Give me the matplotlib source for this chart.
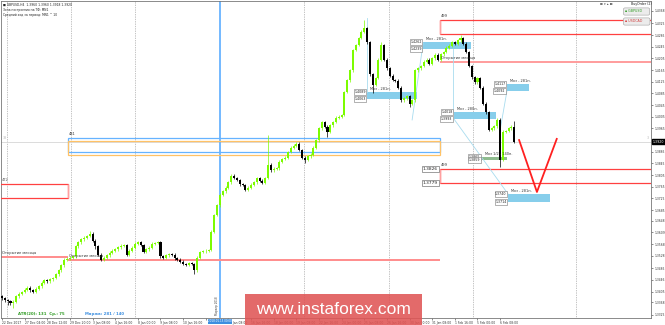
import numpy as np
import matplotlib
matplotlib.use('Agg')
import matplotlib.pyplot as plt
from matplotlib.patches import Rectangle

#-------------------------------------------------------------------------------
#DATA

# GBPUSD H4 closes, in points above 1.0000
closes = [3383, 3376, 3372, 3366, 3370, 3390, 3398, 3404, 3412, 3418,
          3410, 3404, 3415, 3424, 3435, 3445, 3440, 3448, 3452, 3465,
          3479, 3495, 3514, 3518, 3521, 3527, 3560, 3575, 3585, 3590,
          3596, 3603, 3580, 3560, 3531, 3514, 3521, 3530, 3538, 3545,
          3550, 3558, 3562, 3565, 3531, 3545, 3555, 3569, 3575, 3565,
          3541, 3550, 3555, 3569, 3572, 3575, 3527, 3521, 3530, 3534,
          3531, 3520, 3514, 3507, 3500, 3497, 3502, 3500, 3479, 3521,
          3541, 3543, 3545, 3548, 3610, 3668, 3702, 3737, 3750, 3761,
          3781, 3802, 3795, 3788, 3774, 3771, 3754, 3761, 3772, 3781,
          3795, 3785, 3778, 3795, 3840, 3822, 3826, 3829, 3850, 3860,
          3864, 3884, 3898, 3905, 3912, 3891, 3864, 3857, 3870, 3874,
          3898, 3925, 3966, 3987, 3970, 3953, 3975, 3987, 4001, 4005,
          4011, 4090, 4130, 4165, 4234, 4251, 4275, 4296, 4309, 4261,
          4150, 4114, 4138, 4200, 4251, 4200, 4172, 4145, 4131, 4128,
          4104, 4062, 4069, 4076, 4049, 4062, 4165, 4172, 4179, 4193,
          4200, 4186, 4206, 4217, 4200, 4220, 4227, 4241, 4248, 4261,
          4255, 4268, 4275, 4255, 4227, 4179, 4140, 4124, 4138, 4104,
          4049, 4021, 3960, 3966, 3973, 3994, 3857, 3953, 3956, 3966,
          3970, 3920]
first_open = 3390

# bars with longer wicks than usual
long_highs = {31: 3612, 94: 3942, 128: 4337, 134: 4262, 162: 4285, 181: 3990}
long_lows = {2: 3360, 4: 3350, 33: 3550, 56: 3520, 68: 3465, 107: 3845,
             115: 3935, 131: 4086, 144: 4040, 176: 3833}

current = 1.3920

price_ticks = [1.3325, 1.3368, 1.3405, 1.3446, 1.3485, 1.3528, 1.3568, 1.3609,
               1.3648, 1.3685, 1.3725, 1.3765, 1.3805, 1.3845, 1.3885, 1.3965,
               1.4005, 1.4045, 1.4085, 1.4125, 1.4165, 1.4205, 1.4245, 1.4285,
               1.4325, 1.4368]

# the label at bar 72 sits under the marker's date box
time_labels = ['22 Dec 2017', '27 Dec 04:00', '28 Dec 12:00', '29 Dec 20:00',
               '3 Jan 08:00', '4 Jan 16:00', '8 Jan 00:00', '9 Jan 08:00',
               '10 Jan 16:00', '', '15 Jan 08:00', '16 Jan 16:00',
               '18 Jan 00:00', '19 Jan 08:00', '22 Jan 16:00', '24 Jan 00:00',
               '25 Jan 08:00', '26 Jan 16:00', '30 Jan 00:00', '31 Jan 08:00',
               '1 Feb 16:00', '5 Feb 00:00', '6 Feb 08:00']
time_bars = [0, 8, 16, 24, 32, 40, 48, 56, 64, 72, 80, 88, 96, 104, 112, 120,
             128, 136, 144, 152, 160, 168, 176]

week_bars = [1.8, 24.4, 47.0, 106.7, 136.7, 166.4, 202.8]
marker_bar = 77.0
marker_label = '2018.01.15 00:00'

# zones (top, bottom) and the bars where they change
zone472 = (1.3774, 1.3726)
zone481 = (1.3932, 1.3884)
zone481_low = (1.3922, 1.3874)
zone499_top = (1.4337, 1.4289)
zone499_low = (1.3826, 1.3779)
zone_bars = [23.3, 154.8]

month_open = [1.3524, 1.3515, 1.4193]

# target boxes: bar start, bar end, top, bottom, text, top tag, bottom tag
targets = [
    (129.0, 146.6, 1.4090, 1.4066, 'Мкз - 281п.', '1.4089', '1.4063'),
    (148.8, 165.7, 1.4261, 1.4237, 'Мкз - 281п.', '1.4262', '1.4239'),
    (159.7, 174.6, 1.4021, 1.3997, 'Мкз - 280п.', '1.4018', '1.3993'),
    (178.4, 186.2, 1.4117, 1.4093, 'Мкз - 281п.', '1.4117', '1.4092'),
    (178.8, 193.6, 1.3740, 1.3713, 'Мкз - 281п.', '1.3740', '1.3714'),
]
half_target = (169.6, 178.4, 1.3867, 1.3857, 'Мкз 1/2 - 140п.', '1.3865', '1.3859')

links = [((129.0, 1.4345), (129.0, 1.4090)),
         ((144.9, 1.3994), (148.8, 1.4258)),
         ((159.4, 1.4237), (159.4, 1.4021)),
         ((159.7, 1.3997), (178.8, 1.3740)),
         ((176.0, 1.3960), (178.4, 1.4093))]

v_bars = [182.7, 189.0, 196.0]
v_prices = [1.3925, 1.3747, 1.3929]

info_lines = ['■ GBPUSD,H4  1.3960 1.3960 1.3918 1.3920',
              'Зона построения на ТФ: MN1',
              'Средний ход за период: MN1 ^ 10']

#-------------------------------------------------------------------------------
#MAIN

fig = plt.figure(figsize=(6.65, 3.25), dpi=100)
ax = fig.add_axes([1/665, 1 - 318/325, 650/665, 317/325])
xmax = 229.3
ax.set_xlim(-0.35, xmax)
ax.set_ylim(1.33147, 1.44020)

def axf(px, py):
    return ((px - 1)/650, 1 - (py - 1)/317)

#candles
c = 1 + np.array(closes)/1e4
o = np.r_[1 + first_open/1e4, c[:-1]]
hi = np.maximum(o, c) + 0.0005
lo = np.minimum(o, c) - 0.0005
for k, v in long_highs.items():
    hi[k] = 1 + v/1e4
for k, v in long_lows.items():
    lo[k] = 1 + v/1e4
x = np.arange(len(c))
col = ['#7cfc00' if c[i] >= o[i] else '#000000' for i in range(len(c))]
ax.vlines(x, lo, hi, colors=col, lw=0.5, zorder=5)
ax.bar(x, np.maximum(np.abs(c - o), 0.00012), bottom=np.minimum(o, c),
       width=0.72, color=col, lw=0, zorder=6)

#separators, marker line, bid line
for wb in week_bars:
    ax.axvline(wb, color='#888888', lw=0.5, ls=(0, (1, 1.5)), zorder=1)
ax.axvline(marker_bar, color='#4da6ff', lw=1.1, zorder=2)
ax.axhline(current, color='#d6d6d6', lw=0.6, zorder=1)

#zones
def box(x0, x1, top, bot, ec, lw=0.9):
    ax.add_patch(Rectangle((x0, bot), x1 - x0, top - bot, fill=False,
                           ec=ec, lw=lw, zorder=3))

def tag(xx, yy, s, txt, size=2.6):
    ax.annotate(s, xy=(xx, yy), xytext=(0.5, 1.2), textcoords='offset points',
                fontsize=size, color=txt, ha='left', va='bottom', zorder=7)

box(-5, zone_bars[0], zone472[0], zone472[1], '#ff4040')
ax.vlines(zone_bars[0], zone472[1], zone472[0], color='#ffa0a0', lw=1.0, zorder=3)
tag(-0.35, zone472[0], '472', '#555555')

box(zone_bars[0], zone_bars[1], zone481[0], zone481[1], '#66b3ff')
box(zone_bars[0], zone_bars[1], zone481_low[0], zone481_low[1], '#ffc266')
tag(zone_bars[0], zone481[0], '481', '#333333')

for z in (zone499_top, zone499_low):
    box(zone_bars[1], xmax + 5, z[0], z[1], '#ff4040')
    ax.vlines(zone_bars[1], z[1], z[0], color='#ffa0a0', lw=1.0, zorder=3)
    tag(zone_bars[1], z[0], '499', '#333333')

for lvl in zone499_low:
    ax.annotate('%.4f' % lvl, xy=(zone_bars[1], lvl), xytext=(-1.5, 0),
                textcoords='offset points', ha='right', va='center',
                fontsize=3.2, color='#222222', zorder=8,
                bbox=dict(boxstyle='square,pad=0.2', fc='white', ec='#777777', lw=0.5))

#month open lines
ax.hlines(month_open[0], -5, zone_bars[0], color='#ff8c8c', lw=1.4, zorder=2)
ax.hlines(month_open[1], zone_bars[0], zone_bars[1], color='#ff8c8c', lw=1.4, zorder=2)
ax.hlines(month_open[2], zone_bars[1], xmax + 5, color='#ff9c9c', lw=1.4, zorder=2)
tag(-0.35, month_open[0], 'Открытие месяца', '#333333')
tag(zone_bars[0], month_open[1], 'Открытие месяца', '#333333')
tag(zone_bars[1], month_open[2], 'Открытие месяца', '#333333')

#targets
for (x0, x1, top, bot, s, t1, t2), fc in [(t, '#87ceeb') for t in targets] + [(half_target, '#8fbc8f')]:
    ax.add_patch(Rectangle((x0, bot), x1 - x0, top - bot, fc=fc, lw=0, zorder=3))
    ax.annotate(s, xy=(x0, top), xytext=(2, 1), textcoords='offset points',
                fontsize=2.5, color='#333333', ha='left', va='bottom', zorder=8)
    for lvl, t in ((top, t1), (bot, t2)):
        ax.annotate(t, xy=(x0, lvl), xytext=(-1, 0), textcoords='offset points',
                    ha='right', va='center', fontsize=2.3, color='#222222', zorder=8,
                    bbox=dict(boxstyle='square,pad=0.2', fc='white', ec='#777777', lw=0.4))

for (a, b) in links:
    ax.plot([a[0], b[0]], [a[1], b[1]], color='#a8dcef', lw=0.6, zorder=3)

#projection
ax.plot(v_bars, v_prices, color='#ff2020', lw=1.3, zorder=6)

#axes and ticks
ax.yaxis.tick_right()
ax.set_yticks(price_ticks)
ax.set_yticklabels(['%.4f' % p for p in price_ticks])
ax.set_xticks(time_bars)
ax.set_xticklabels(time_labels, ha='left')
ax.tick_params(axis='both', length=1.5, width=0.4, pad=1, labelsize=2.2,
               colors='#333333')
for s in ax.spines.values():
    s.set_color('#777777')
    s.set_linewidth(0.6)

ax.annotate('%.4f' % current, xy=(1, current), xycoords=('axes fraction', 'data'),
            xytext=(1.5, 0), textcoords='offset points', fontsize=2.3,
            color='white', ha='left', va='center', annotation_clip=False,
            bbox=dict(boxstyle='square,pad=0.2', fc='black', ec='black'))
ax.annotate('38', xy=(0, current), xycoords=('axes fraction', 'data'),
            xytext=(1, 1), textcoords='offset points', fontsize=2.4,
            color='#bbbbbb', ha='left', va='bottom')
ax.annotate('3', xy=(1, current), xycoords=('axes fraction', 'data'),
            xytext=(-3, 1), textcoords='offset points', fontsize=2.4,
            color='#bbbbbb', ha='left', va='bottom')

ax.text(marker_bar, -0.004, marker_label, transform=ax.get_xaxis_transform(),
        ha='center', va='top', fontsize=2.0, color='white', zorder=9, clip_on=False,
        bbox=dict(boxstyle='square,pad=0.2', fc='#3d8fe0', ec='none'))
ax.text(marker_bar - 0.9, 0.01, 'Маркер 2018', transform=ax.get_xaxis_transform(),
        ha='center', va='bottom', rotation=90, fontsize=2.0, color='#444444')

#overlay texts
ax.text(*axf(3, 3), '\n'.join(info_lines), transform=ax.transAxes, ha='left',
        va='top', fontsize=2.2, color='#222222', linespacing=1.35)
ax.text(*axf(18, 314.5), 'ATR(20): 131  Ср.: 75', transform=ax.transAxes,
        ha='left', va='center', fontsize=2.8, fontweight='bold', color='#2e9b22')
ax.text(*axf(85, 314.5), 'Маржа: 281 / 140', transform=ax.transAxes,
        ha='left', va='center', fontsize=2.8, fontweight='bold', color='#3d8fe0')

ax.text(*axf(600, 4), '⊠ ▾ ▴ ⊠', transform=ax.transAxes, ha='left', va='center',
        fontsize=2.4, color='#444444', zorder=9)
ax.text(*axf(631, 4), 'BuyOrder (2)', transform=ax.transAxes, ha='left',
        va='center', fontsize=2.3, color='#222222', zorder=9)
ax.text(*axf(625, 11.5), '▪ GBPUSD      ', transform=ax.transAxes, ha='left',
        va='center', fontsize=2.3, color='#2e9b22', zorder=9,
        bbox=dict(boxstyle='round,pad=0.5', fc='#ececec', ec='#a0a0a0', lw=0.4))
ax.text(*axf(625, 21.5), '▪ USDCAD      ', transform=ax.transAxes, ha='left',
        va='center', fontsize=2.3, color='#d04040', zorder=9,
        bbox=dict(boxstyle='round,pad=0.5', fc='#ececec', ec='#a0a0a0', lw=0.4))

#watermark
fig.patches.append(Rectangle((245/665, 0), 177/665, 31/325, transform=fig.transFigure,
                             fc='#e05555', alpha=0.88, lw=0, zorder=20))
fig.text(333.5/665, 1 - 310/325, 'www.instaforex.com', color='white', fontsize=12.5,
         family='Liberation Sans', ha='center', va='center', zorder=21)

plt.savefig('out.png', dpi=100)
